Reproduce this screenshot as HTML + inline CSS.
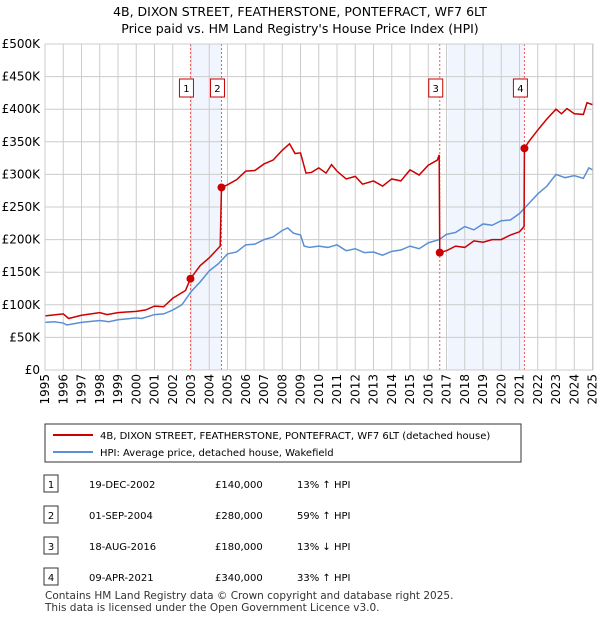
<!DOCTYPE html>
<html><head><meta charset="utf-8"><style>
body{margin:0;background:#fff;font-family:"Liberation Sans","DejaVu Sans",sans-serif;}
svg text{font-family:"DejaVu Sans","Liberation Sans",sans-serif;}
</style></head><body>
<svg id="c" width="600" height="620" xmlns="http://www.w3.org/2000/svg">
<text x="300" y="16" text-anchor="middle" font-size="12.5">4B, DIXON STREET, FEATHERSTONE, PONTEFRACT, WF7 6LT</text>
<text x="300" y="33" text-anchor="middle" font-size="12.5">Price paid vs. HM Land Registry's House Price Index (HPI)</text>
<g id="plot"></g>
<rect x="45" y="424" width="476" height="38" fill="#fff" stroke="#333"/>
<line x1="53" y1="435" x2="93" y2="435" stroke="#cc0000" stroke-width="2"/>
<text x="100" y="439" font-size="10">4B, DIXON STREET, FEATHERSTONE, PONTEFRACT, WF7 6LT (detached house)</text>
<line x1="53" y1="452" x2="93" y2="452" stroke="#5b8fd4" stroke-width="2"/>
<text x="100" y="456" font-size="10">HPI: Average price, detached house, Wakefield</text>
<g id="tbl" font-size="10"></g>
<text x="45" y="599" font-size="10.5" fill="#333">Contains HM Land Registry data © Crown copyright and database right 2025.</text>
<text x="45" y="611" font-size="10.5" fill="#333">This data is licensed under the Open Government Licence v3.0.</text>
</svg>
<script>
const hpiX=[1995,1995.5,1996,1996.2,1997,1998,1998.5,1999,2000,2000.3,2001,2001.5,2002,2002.5,2003,2003.5,2004,2004.5,2005,2005.5,2006,2006.5,2007,2007.5,2008,2008.3,2008.6,2009,2009.2,2009.5,2010,2010.5,2011,2011.5,2012,2012.5,2013,2013.5,2014,2014.5,2015,2015.5,2016,2016.6,2017,2017.5,2018,2018.5,2019,2019.5,2020,2020.5,2021,2021.5,2022,2022.5,2023,2023.5,2024,2024.5,2024.8,2025];
const hpiY=[73,74,72,69,73,76,74,77,80,79,85,86,92,100,120,135,152,163,178,181,192,193,200,204,214,218,210,207,190,188,190,188,192,183,186,180,181,176,182,184,190,186,195,200,208,211,220,215,224,222,229,230,240,255,270,282,300,295,298,294,310,307];
const priceX=[1995,1996,1996.3,1997,1998,1998.4,1999,2000,2000.5,2001,2001.5,2002,2002.7,2002.97,2003.5,2004,2004.6,2004.67,2005,2005.5,2006,2006.5,2007,2007.5,2008,2008.4,2008.7,2009,2009.3,2009.6,2010,2010.4,2010.7,2011,2011.5,2012,2012.4,2013,2013.5,2014,2014.5,2015,2015.5,2016,2016.5,2016.6,2016.63,2017,2017.5,2018,2018.5,2019,2019.5,2020,2020.5,2021,2021.25,2021.27,2021.5,2022,2022.5,2023,2023.3,2023.6,2024,2024.5,2024.7,2025];
const priceY=[83,86,79,84,88,85,88,90,92,98,97,110,122,140,160,172,190,280,284,292,305,306,316,322,337,347,332,333,302,303,310,302,315,305,293,297,285,290,282,293,290,307,299,314,322,330,180,183,190,188,198,196,200,200,207,212,220,340,350,368,385,400,393,401,393,392,410,407];
const saleX=[2002.97,2004.67,2016.63,2021.27];
const saleY=[140,280,180,340];
const saleLbl=["1","2","3","4"];
const saleDate=["19-DEC-2002","01-SEP-2004","18-AUG-2016","09-APR-2021"];
const salePrice=["£140,000","£280,000","£180,000","£340,000"];
const saleHpi=["13% ↑ HPI","59% ↑ HPI","13% ↓ HPI","33% ↑ HPI"];
const yTicks=[0,50,100,150,200,250,300,350,400,450,500];
const yLabels=["£0","£50K","£100K","£150K","£200K","£250K","£300K","£350K","£400K","£450K","£500K"];
const years=[];for(let y=1995;y<=2025;y++)years.push(y);
const X=v=>45+(v-1995)*18.25, Y=v=>370-v*0.652;
const NS="http://www.w3.org/2000/svg";
function mk(p,t,a){const e=document.createElementNS(NS,t);for(const k in a)e.setAttribute(k,a[k]);p.appendChild(e);return e;}
const g=document.getElementById('plot');
const sh1=mk(g,'rect',{x:X(saleX[0]),y:44,width:X(saleX[1])-X(saleX[0]),height:326,fill:'#f1f5fd'});


const sh2=mk(g,'rect',{x:X(2017.05),y:44,width:X(saleX[3])-X(2017.05),height:326,fill:'#f1f5fd'});


yTicks.forEach((t,i)=>{
 const l=mk(g,'line',{x1:45,x2:593,y1:Y(t),y2:Y(t),stroke:'#ccc'});
 
 
 const tx=mk(g,'text',{x:40,y:Y(t)+4,'text-anchor':'end','font-size':12});
 
 
 tx.textContent=yLabels[i];
});
years.forEach(y=>{
 const l=mk(g,'line',{x1:X(y),x2:X(y),y1:44,y2:370,stroke:'#ccc'});
 
 
 const tx=mk(g,'text',{transform:`translate(${X(y)+4},374) rotate(-90)`,'text-anchor':'end','font-size':12});
 
 
 tx.textContent=y;
});
saleX.forEach((s,i)=>{
 const l=mk(g,'line',{x1:X(s),x2:X(s),y1:44,y2:370,stroke:'#f05a5a','stroke-dasharray':'2,2'});
 
 
 const r=mk(g,'rect',{x:X(s)-11,y:79,width:14,height:18,fill:'#fff',stroke:'#cc0000'});
 
 
 const t=mk(g,'text',{x:X(s)-4,y:92,'text-anchor':'middle','font-size':10});
 
 
 t.textContent=saleLbl[i];
});
const hp=mk(g,'polyline',{points:hpiX.map((x,i)=>X(x)+','+Y(hpiY[i])).join(' '),fill:'none',stroke:'#5b8fd4','stroke-width':1.5});


const pp=mk(g,'polyline',{points:priceX.map((x,i)=>X(x)+','+Y(priceY[i])).join(' '),fill:'none',stroke:'#cc0000','stroke-width':1.5});


saleX.forEach((s,i)=>{
 const c=mk(g,'circle',{cx:X(s),cy:Y(saleY[i]),r:4,fill:'#cc0000'});
 
 
});
const ax=mk(g,'rect',{x:45,y:44,width:548,height:326,fill:'none',stroke:'#ccc'});


const tb=document.getElementById('tbl');
saleX.forEach((s,i)=>{
 const y=484+i*31;
 const r=mk(tb,'rect',{x:44,y:y-9,width:14,height:17,fill:'#fff',stroke:'#333'});
 
 
 const cells=[[51,saleLbl[i],'middle'],[89,saleDate[i],'start'],[215,salePrice[i],'start'],[297,saleHpi[i],'start']];
 cells.forEach(c=>{
  const t=mk(tb,'text',{x:c[0],y:y+4,'text-anchor':c[2]});
  
  
  t.textContent=c[1];
 });
});
</script>
</body></html>
